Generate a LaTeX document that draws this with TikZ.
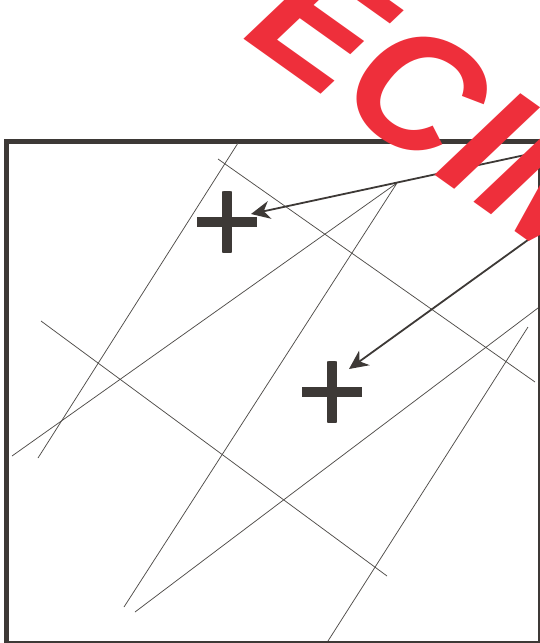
\documentclass[tikz,border=0pt]{standalone}
\usepackage{fontspec}
\setmainfont{Liberation Sans}
\usetikzlibrary{arrows.meta}
\definecolor{ink}{HTML}{3D3936}
\definecolor{stamp}{HTML}{EE2F3B}

\begin{document}
\begin{tikzpicture}[x=1pt, y=-1pt,
    frame/.style={draw=ink, line width=4.5pt},
    trace/.style={draw=ink!90, line width=0.75pt},
    pointer/.style={-{Stealth[length=19pt, width=18pt, inset=6pt]}, ink, line width=1.8pt},
    plus/.style={circle, minimum size=62pt, inner sep=0pt, path picture={
        \fill[ink] ([shift={(-30,-5)}]path picture bounding box.center) rectangle ([shift={(30,5)}]path picture bounding box.center);
        \fill[ink] ([shift={(-5,-31)}]path picture bounding box.center) rectangle ([shift={(5,31)}]path picture bounding box.center);}},
    watermark/.style={text=stamp, font=\fontsize{169}{169}\selectfont\bfseries\itshape,
                      inner sep=0pt, anchor=base west, rotate=-35.5}
  ]
    \useasboundingbox (0,0) rectangle (539,643);
    \draw[frame] (6.3,141.7) rectangle (539.8,643);

    % crossing lines
    \coordinate (apex) at (397,183);
    \draw[trace] (238,143) -- (38,458);
    \draw[trace] (218,159) -- (535,382);
    \draw[trace] (12,456) -- (apex) -- (124,607);
    \draw[trace] (41,321) -- (387,576);
    \draw[trace] (135,612) -- (538,308);
    \draw[trace] (328,641) -- (528,327);

    % marks and pointers
    \node[plus] (plusA) at (227,222) {};
    \node[plus] (plusB) at (332,392) {};
    \coordinate (tagA) at (539,152);
    \coordinate (tagB) at (539,232);
    \draw[pointer] (tagA) -- ([shift={(24,-8)}]plusA.center);
    \draw[pointer] (tagB) -- ([shift={(17,-23)}]plusB.center);

    \node[watermark] (specimen) at (58,-94) {SPECIMEN};
  \end{tikzpicture}
\end{document}
